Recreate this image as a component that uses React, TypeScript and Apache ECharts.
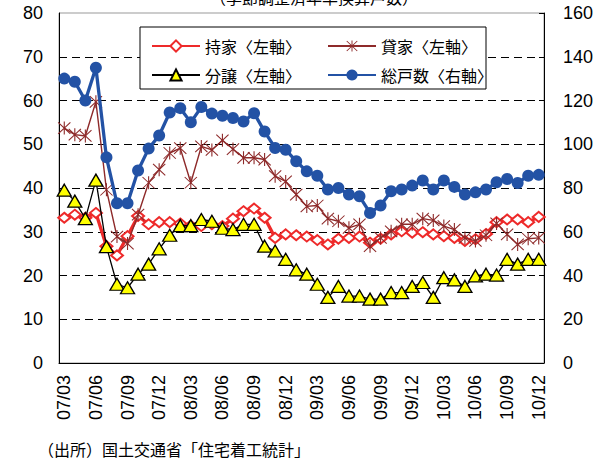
import React, { useEffect, useRef } from "react";
import * as echarts from "echarts";

const categories = [
  "07/03","07/04","07/05","07/06","07/07","07/08","07/09","07/10","07/11","07/12",
  "08/01","08/02","08/03","08/04","08/05","08/06","08/07","08/08","08/09","08/10","08/11","08/12",
  "09/01","09/02","09/03","09/04","09/05","09/06","09/07","09/08","09/09","09/10","09/11","09/12",
  "10/01","10/02","10/03","10/04","10/05","10/06","10/07","10/08","10/09","10/10","10/11","10/12",
];

// 持家（左軸）
const mochiie = [
  33.2, 33.9, 33.2, 34.3, 26.7, 24.6, 29.0, 33.6, 31.7, 32.2,
  32.2, 31.9, 31.4, 31.3, 31.7, 31.3, 33.0, 34.7, 35.3, 33.2, 28.6, 29.4,
  29.2, 28.9, 28.1, 27.1, 28.4, 28.6, 28.9, 27.5, 28.4, 29.4, 30.1, 29.8,
  29.9, 29.4, 29.0, 28.6, 27.9, 28.3, 29.5, 32.2, 32.8, 32.8, 32.2, 33.4,
];
// 貸家（左軸）
const kashiya = [
  53.7, 52.2, 51.9, 59.7, 39.6, 28.9, 27.3, 33.9, 41.2, 44.2,
  48.0, 49.1, 41.2, 49.5, 48.7, 50.9, 48.9, 46.9, 46.9, 46.5, 42.7, 41.5,
  38.5, 35.8, 36.0, 33.0, 32.4, 30.9, 31.7, 26.7, 28.6, 30.1, 31.7, 31.7,
  33.0, 32.6, 31.3, 30.5, 28.6, 27.9, 29.2, 31.9, 29.4, 27.1, 28.4, 28.6,
];
// 分譲（左軸）
const bunjo = [
  39.5, 37.0, 33.0, 41.8, 26.6, 18.0, 17.2, 20.3, 22.6, 26.1,
  29.2, 31.4, 31.4, 32.8, 32.4, 30.8, 30.5, 31.7, 31.7, 26.7, 25.6, 23.7,
  21.3, 20.3, 18.0, 15.0, 17.5, 15.3, 15.3, 14.6, 14.6, 16.1, 16.1, 17.5,
  18.4, 15.0, 19.5, 19.0, 17.5, 19.9, 20.3, 20.1, 23.7, 22.6, 23.7, 23.7,
];
// 総戸数（右軸）
const soukosu = [
  130, 128.6, 120, 135, 94, 73, 73, 88, 98, 104,
  114.5, 116.5, 110, 117, 114, 113, 112, 110.4, 114.2, 105.8, 98.3, 97.5,
  92.2, 87.6, 85.6, 79.3, 80, 77, 76.2, 68.6, 72, 78.5, 79.3, 81.1,
  83.4, 79.3, 83.4, 80.5, 77, 78, 79.3, 82.6, 84.1, 82.3, 85.6, 86,
];

const seriesNames = ["持家〈左軸〉", "貸家〈左軸〉", "分譲〈左軸〉", "総戸数〈右軸〉"];
const titleText = "（季節調整済年率換算戸数）";
const sourceText = "（出所）国土交通省「住宅着工統計」";

const NUM_FONT = "'Liberation Sans', Arial, sans-serif";
const JP_FONT = "'Noto Sans CJK JP', sans-serif";

const RED = "#ee2a2a";
const BROWN = "#8e2a2a";
const BLUE = "#2352a5";
const YELLOW = "#ffff00";

const asterisk =
  "path://M9.2 0 L10.8 0 L10.8 20 L9.2 20 Z M0.6 1.7 L1.7 0.6 L19.4 18.3 L18.3 19.4 Z M18.3 0.6 L19.4 1.7 L1.7 19.4 L0.6 18.3 Z";

export default function App() {
  const ref = useRef<HTMLDivElement>(null);

  useEffect(() => {
    document.body.style.margin = "0";
    const chart = echarts.init(ref.current!, undefined, { renderer: "svg" });
    const legendCommon = {
      orient: "vertical",
      itemWidth: 48,
      itemHeight: 14,
      itemGap: 13,
      z: 10,
      textStyle: { fontSize: 16, fontFamily: JP_FONT, color: "#000" },
      selectedMode: false,
    };
    chart.setOption({
      animation: false,
      backgroundColor: "#fff",
      grid: {
        left: 59,
        right: 60,
        top: 13,
        bottom: 98,
        show: true,
        borderColor: "#999",
        borderWidth: 1,
        containLabel: false,
      },
      legend: [
        { ...legendCommon, data: [seriesNames[0], seriesNames[2]], left: 146, top: 33 },
        { ...legendCommon, data: [seriesNames[1], seriesNames[3]], left: 322, top: 33 },
      ],
      xAxis: {
        type: "category",
        data: categories,
        boundaryGap: true,
        axisLine: { show: true, lineStyle: { color: "#000", width: 1 } },
        axisTick: { show: false },
        axisLabel: {
          interval: 2,
          rotate: 90,
          fontSize: 18,
          fontFamily: NUM_FONT,
          color: "#000",
          margin: 12,
        },
        splitLine: { show: false },
      },
      yAxis: [
        {
          type: "value",
          min: 0,
          max: 80,
          interval: 10,
          position: "left",
          axisLine: { show: true, lineStyle: { color: "#000", width: 1 } },
          axisTick: { show: false },
          axisLabel: { fontSize: 18, fontFamily: NUM_FONT, color: "#000", margin: 16 },
          splitLine: {
            show: true,
            showMinLine: false,
            showMaxLine: false,
            lineStyle: { color: "#000", width: 1, type: [8, 5] },
          },
        },
        {
          type: "value",
          min: 0,
          max: 160,
          interval: 20,
          position: "right",
          axisLine: { show: true, lineStyle: { color: "#000", width: 1 } },
          axisTick: { show: true, inside: true, length: 5, lineStyle: { color: "#000" } },
          axisLabel: { fontSize: 18, fontFamily: NUM_FONT, color: "#000", margin: 19 },
          splitLine: { show: false },
        },
      ],
      series: [
        {
          name: seriesNames[0],
          type: "line",
          yAxisIndex: 0,
          data: mochiie,
          color: RED,
          showAllSymbol: true,
          lineStyle: { color: RED, width: 3.3 },
          symbol: "emptyDiamond",
          symbolSize: [12, 10],
          itemStyle: { color: RED, borderColor: RED, borderWidth: 1.5 },
          z: 2,
        },
        {
          name: seriesNames[1],
          type: "line",
          yAxisIndex: 0,
          data: kashiya,
          color: BROWN,
          showAllSymbol: true,
          lineStyle: { color: BROWN, width: 1.4 },
          symbol: asterisk,
          symbolSize: 13,
          itemStyle: { color: BROWN },
          z: 3,
        },
        {
          name: seriesNames[2],
          type: "line",
          yAxisIndex: 0,
          data: bunjo,
          color: YELLOW,
          showAllSymbol: true,
          lineStyle: { color: "#000", width: 1.3 },
          symbol: "triangle",
          symbolSize: [14, 12],
          itemStyle: { color: YELLOW, borderColor: "#000", borderWidth: 1.3 },
          z: 4,
        },
        {
          name: seriesNames[3],
          type: "line",
          yAxisIndex: 1,
          data: soukosu,
          color: BLUE,
          showAllSymbol: true,
          lineStyle: { color: BLUE, width: 3.3 },
          symbol: "circle",
          symbolSize: 12,
          itemStyle: { color: BLUE },
          z: 5,
        },
      ],
      graphic: [
        {
          type: "rect",
          z: 8,
          shape: { x: 140, y: 27, width: 346, height: 62 },
          style: { fill: "#fff", stroke: "#000", lineWidth: 1 },
        },
        {
          type: "text",
          left: 210,
          top: -11,
          style: { text: titleText, fontSize: 16, fontFamily: JP_FONT, fill: "#000" },
        },
        {
          type: "text",
          left: 38,
          top: 441,
          style: { text: sourceText, fontSize: 16, fontFamily: JP_FONT, fill: "#000" },
        },
      ],
    });
    return () => chart.dispose();
  }, []);

  return <div ref={ref} style={{ width: 604, height: 461 }} />;
}
